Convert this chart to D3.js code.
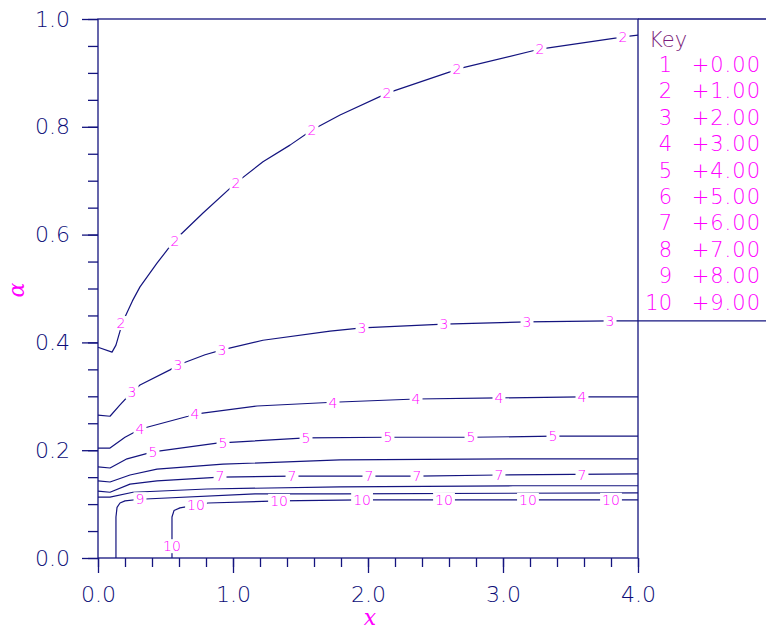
<!DOCTYPE html>
<html>
<head>
<meta charset="utf-8">
<script src="https://cdn.jsdelivr.net/npm/d3@7"></script>
<style>
  body { margin: 0; background: #fff; }
  svg { display: block; }
</style>
</head>
<body>
<svg id="chart"></svg>
<script>
// key entries: contour id -> level
const keyIds = [1, 2, 3, 4, 5, 6, 7, 8, 9, 10]
const keyValues = [0, 1, 2, 3, 4, 5, 6, 7, 8, 9]

// contours, [x, alpha]
const contour2 = [[0, 0.391], [0.104, 0.382], [0.133, 0.395], [0.170, 0.427], [0.200, 0.447],
  [0.255, 0.477], [0.311, 0.503], [0.437, 0.547], [0.570, 0.590], [0.778, 0.640], [1.022, 0.696],
  [1.222, 0.735], [1.422, 0.766], [1.585, 0.794], [1.793, 0.822], [2.148, 0.863], [2.607, 0.902],
  [2.659, 0.907], [3.237, 0.942], [3.274, 0.944], [3.844, 0.965], [3.889, 0.967], [4.0, 0.970]]
const contour3 = [[0, 0.265], [0.089, 0.263], [0.163, 0.284], [0.252, 0.308], [0.311, 0.321],
  [0.533, 0.349], [0.593, 0.358], [0.793, 0.377], [0.919, 0.386], [1.222, 0.404], [1.719, 0.421],
  [1.956, 0.427], [2.563, 0.434], [3.178, 0.438], [3.793, 0.440], [4.0, 0.440]]
const contour4 = [[0, 0.204], [0.089, 0.204], [0.200, 0.224], [0.311, 0.239], [0.370, 0.243],
  [0.667, 0.263], [0.719, 0.267], [1.178, 0.282], [1.741, 0.289], [2.356, 0.295], [2.970, 0.297],
  [3.585, 0.299], [4.0, 0.299]]
const contour5 = [[0, 0.169], [0.089, 0.167], [0.215, 0.184], [0.407, 0.197], [0.881, 0.213],
  [1.541, 0.223], [2.148, 0.224], [2.770, 0.224], [3.378, 0.226], [4.0, 0.226]]
const contour6 = [[0, 0.143], [0.089, 0.141], [0.237, 0.154], [0.437, 0.165], [0.926, 0.174],
  [1.793, 0.182], [3.074, 0.184], [4.0, 0.184]]
const contour7 = [[0, 0.124], [0.089, 0.122], [0.237, 0.137], [0.437, 0.143], [0.904, 0.150],
  [1.437, 0.152], [2.363, 0.152], [2.970, 0.154], [4.0, 0.156]]
const contour8 = [[0, 0.113], [0.089, 0.113], [0.259, 0.122], [0.807, 0.128], [1.793, 0.132],
  [3.074, 0.134], [4.0, 0.134]]
const contour9 = [[0.133, 0], [0.133, 0.076], [0.141, 0.094], [0.163, 0.102], [0.200, 0.106],
  [0.311, 0.109], [1.163, 0.119], [1.793, 0.119], [4.0, 0.121]]
const contour10 = [[0.548, 0], [0.548, 0.076], [0.563, 0.088], [0.607, 0.093], [0.726, 0.098],
  [0.815, 0.102], [1.341, 0.106], [1.956, 0.108], [3.185, 0.108], [4.0, 0.108]]

// where the contour numbers sit
const labels2 = [[0.170, 0.436], [0.570, 0.588], [1.022, 0.696], [1.585, 0.794], [2.141, 0.863],
  [2.659, 0.907], [3.274, 0.944], [3.889, 0.967]]
const labels3 = [[0.252, 0.308], [0.593, 0.358], [0.919, 0.386], [1.956, 0.427], [2.563, 0.434],
  [3.178, 0.438], [3.793, 0.440]]
const labels4 = [[0.311, 0.239], [0.719, 0.267], [1.741, 0.288], [2.356, 0.295], [2.970, 0.297],
  [3.585, 0.299]]
const labels5 = [[0.407, 0.197], [0.926, 0.213], [1.541, 0.223], [2.148, 0.224], [2.763, 0.224],
  [3.370, 0.226]]
const labels7 = [[0.904, 0.152], [1.437, 0.152], [2.007, 0.152], [2.363, 0.152], [2.970, 0.154],
  [3.585, 0.154]]
const labels9 = [[0.311, 0.109]]
const labels10 = [[0.548, 0.022], [0.726, 0.098], [1.341, 0.106], [1.956, 0.108], [2.563, 0.108],
  [3.185, 0.108], [3.800, 0.108]]

const xMajor = [0, 1, 2, 3, 4]
const xMinor = d3.range(0, 4.01, 0.2)
const yMajor = [0, 0.2, 0.4, 0.6, 0.8, 1.0]
const yMinor = d3.range(0, 1.001, 0.05)

const contours = [
  { id: 2, pts: contour2, labels: labels2 },
  { id: 3, pts: contour3, labels: labels3 },
  { id: 4, pts: contour4, labels: labels4 },
  { id: 5, pts: contour5, labels: labels5 },
  { id: 6, pts: contour6, labels: [] },
  { id: 7, pts: contour7, labels: labels7 },
  { id: 8, pts: contour8, labels: [] },
  { id: 9, pts: contour9, labels: labels9 },
  { id: 10, pts: contour10, labels: labels10 },
]

let dimensions = {
  width: 766, height: 631,
  margin: { top: 19, right: 128, bottom: 73, left: 98 },
}
dimensions.boundedWidth = dimensions.width - dimensions.margin.left - dimensions.margin.right
dimensions.boundedHeight = dimensions.height - dimensions.margin.top - dimensions.margin.bottom

const navy = "#14147f"
const axisText = "#0c0c78"
const magenta = "#ff00ff"
const font = "'DejaVu Sans', sans-serif"

const wrapper = d3.select("#chart")
  .attr("width", dimensions.width)
  .attr("height", dimensions.height)

const bounds = wrapper.append("g")
  .attr("transform", `translate(${dimensions.margin.left}, ${dimensions.margin.top})`)

const xScale = d3.scaleLinear().domain([0, 4]).range([0, dimensions.boundedWidth])
const yScale = d3.scaleLinear().domain([0, 1]).range([dimensions.boundedHeight, 0])

// contour lines (plain polylines, the kinks near x=0.1 are sharp)
const lineGenerator = d3.line()
  .x(d => xScale(d[0]))
  .y(d => yScale(d[1]))

bounds.append("g").selectAll("path")
  .data(contours)
  .join("path")
  .attr("d", d => lineGenerator(d.pts))
  .attr("fill", "none")
  .attr("stroke", navy)
  .attr("stroke-width", 1.2)
  .attr("stroke-linejoin", "round")

// labels sit in gaps of the lines, so paint a white box under each
const labelData = contours.flatMap(c => c.labels.map(p => ({ id: c.id, p })))
const labelGroup = bounds.append("g")
const labelNodes = labelGroup.selectAll("g")
  .data(labelData)
  .join("g")
  .attr("transform", d => `translate(${xScale(d.p[0])}, ${yScale(d.p[1])})`)

labelNodes.append("text")
  .attr("text-anchor", "middle")
  .attr("dy", "0.36em")
  .attr("font-family", font)
  .attr("font-size", 14)
  .attr("font-weight", 300)
  .attr("fill", magenta)
  .text(d => d.id)

labelNodes.each(function () {
  const g = d3.select(this)
  const box = g.select("text").node().getBBox()
  g.insert("rect", "text")
    .attr("x", box.x - 2)
    .attr("y", box.y + 1)
    .attr("width", box.width + 4)
    .attr("height", box.height - 2)
    .attr("fill", "#fff")
})

// axes: minor and major ticks drawn separately
const styleAxis = g => {
  g.select(".domain").remove()
  g.selectAll("line").attr("stroke", navy).attr("stroke-width", 1.3)
  g.selectAll("text")
    .attr("fill", axisText)
    .attr("font-family", font)
    .attr("font-size", 22)
    .attr("font-weight", 200)
}

bounds.append("g")
  .call(d3.axisLeft(yScale).tickValues(yMinor).tickSize(10).tickFormat(""))
  .call(styleAxis)
bounds.append("g")
  .call(d3.axisLeft(yScale).tickValues(yMajor).tickSize(16).tickPadding(12).tickFormat(d3.format(".1f")))
  .call(styleAxis)

bounds.append("g")
  .attr("transform", `translate(0, ${dimensions.boundedHeight})`)
  .call(d3.axisBottom(xScale).tickValues(xMinor).tickSize(9).tickFormat(""))
  .call(styleAxis)
const xAxis = bounds.append("g")
  .attr("transform", `translate(0, ${dimensions.boundedHeight})`)
  .call(d3.axisBottom(xScale).tickValues(xMajor).tickSize(15).tickFormat(d3.format(".1f")))
  .call(styleAxis)
xAxis.selectAll("text").attr("y", 44).attr("dy", 0)

// frame, extended to the right edge for the key box
const frame = bounds.append("g")
  .attr("stroke", navy)
  .attr("stroke-width", 1.3)
  .attr("fill", "none")
frame.append("rect")
  .attr("width", dimensions.boundedWidth)
  .attr("height", dimensions.boundedHeight)
frame.append("line")
  .attr("x1", dimensions.boundedWidth).attr("x2", dimensions.width)
  .attr("y1", 0).attr("y2", 0)
frame.append("line")
  .attr("x1", dimensions.boundedWidth).attr("x2", dimensions.width)
  .attr("y1", yScale(0.44)).attr("y2", yScale(0.44))

// key
const key = wrapper.append("g")
  .attr("font-family", font)
  .attr("font-size", 21)
  .attr("font-weight", 200)
key.append("text")
  .attr("x", 649).attr("y", 47)
  .attr("fill", "#7a1a7a")
  .text("Key")
const keyRows = key.selectAll("g.row")
  .data(keyIds)
  .join("g")
  .attr("class", "row")
  .attr("transform", (d, i) => `translate(0, ${72 + i * 26.4})`)
keyRows.append("text")
  .attr("x", 672).attr("text-anchor", "end")
  .attr("fill", magenta)
  .text(d => d)
keyRows.append("text")
  .attr("x", 761).attr("text-anchor", "end")
  .attr("letter-spacing", 1)
  .attr("fill", magenta)
  .text((d, i) => "+" + keyValues[i].toFixed(2))

// axis titles
wrapper.append("text")
  .attr("transform", "translate(24, 290) rotate(-90)")
  .attr("text-anchor", "middle")
  .attr("font-family", "'DejaVu Serif', serif")
  .attr("font-style", "italic")
  .attr("font-size", 22)
  .attr("fill", magenta)
  .text("α")
wrapper.append("text")
  .attr("x", 370).attr("y", 625)
  .attr("text-anchor", "middle")
  .attr("font-family", "'DejaVu Serif', serif")
  .attr("font-style", "italic")
  .attr("font-size", 22)
  .attr("fill", magenta)
  .text("x")
</script>
</body>
</html>
